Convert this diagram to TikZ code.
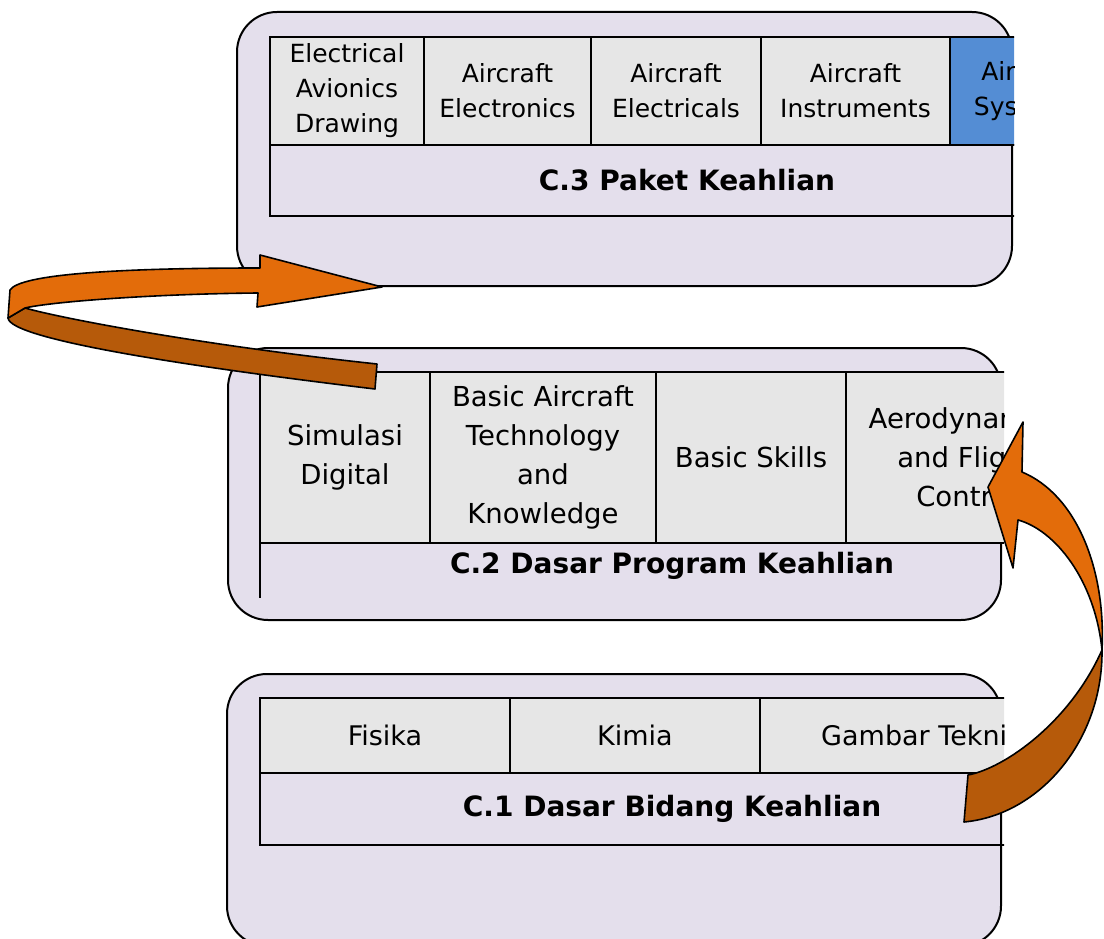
\documentclass[tikz,border=0pt]{standalone}
\usepackage{fontspec}
\setmainfont{DejaVu Sans}
\usepackage{tikz}
\usetikzlibrary{positioning}
\definecolor{panelfill}{RGB}{228,223,236}
\definecolor{cellgray}{RGB}{230,230,230}
\definecolor{cellblue}{RGB}{84,141,212}
\definecolor{arroworange}{RGB}{227,108,10}
\definecolor{arrowdark}{RGB}{182,90,10}
\tikzset{>=stealth}

\begin{document}
\begin{tikzpicture}[x=1pt,y=-1pt,
    panel/.style={draw,line width=2pt,fill=panelfill,rounded corners=40pt},
    cell/.style={draw,line width=2.5pt,fill=cellgray,anchor=north west,align=center,inner sep=0pt,outer sep=0pt},
    cellthree/.style={cell,minimum height=108pt,font=\fontsize{25}{35}\selectfont},
    celltwo/.style={cell,minimum height=171pt,font=\fontsize{27.5}{39}\selectfont},
    cellone/.style={cell,minimum height=75pt,font=\fontsize{27}{33}\selectfont},
    footrow/.style={draw,line width=2.5pt,anchor=north west,inner sep=0pt,outer sep=0pt,font=\fontsize{28}{34}\selectfont\bfseries},
    foottext/.style={font=\fontsize{28}{34}\selectfont\bfseries},
    ribbon/.style={draw,line width=1.6pt,line join=round}]
  \useasboundingbox (0,0) rectangle (1104,939);
  \clip (0,0) rectangle (1104,939);

  % C.3 Paket Keahlian
  \draw[panel] (237,12) rectangle (1012,286);
  \begin{scope}
    \clip (0,0) rectangle (1014,300);
    \node[cellthree,minimum width=154pt] (ead) at (270,37) {Electrical\\Avionics\\Drawing};
    \node[cellthree,minimum width=167pt,right=0pt of ead] (ael) {Aircraft\\Electronics};
    \node[cellthree,minimum width=170pt,right=0pt of ael] (aec) {Aircraft\\Electricals};
    \node[cellthree,minimum width=189pt,right=0pt of aec] (ain) {Aircraft\\Instruments};
    \node[cellthree,minimum width=154pt,fill=cellblue,right=0pt of ain] (asy) {Aircraft\\Systems};
    \node[footrow,minimum width=834pt,minimum height=71pt] (p3foot) at (ead.south west) {C.3 Paket Keahlian};
  \end{scope}

  % C.2 Dasar Program Keahlian
  \draw[panel] (228,348) rectangle (1001,620);
  \begin{scope}
    \clip (0,300) rectangle (1004,650);
    \node[celltwo,minimum width=170pt] (sim) at (260,372) {Simulasi\\Digital};
    \node[celltwo,minimum width=226pt,right=0pt of sim] (bat) {Basic Aircraft\\Technology\\and\\Knowledge};
    \node[celltwo,minimum width=190pt,right=0pt of bat] (bsk) {Basic Skills};
    \node[celltwo,minimum width=240pt,right=0pt of bsk] (afc) {Aerodynamics\\and Flight\\Control};
    \draw[line width=2.5pt] (sim.south west) -- ++(0,55);
    \node[foottext] (p2foot) at (672,566) {C.2 Dasar Program Keahlian};
  \end{scope}

  % C.1 Dasar Bidang Keahlian
  \draw[panel] (227,674) rectangle (1001,946);
  \begin{scope}
    \clip (0,650) rectangle (1004,939);
    \node[cellone,minimum width=250pt] (fis) at (260,698) {Fisika};
    \node[cellone,minimum width=250pt,right=0pt of fis] (kim) {Kimia};
    \node[cellone,minimum width=324pt,right=0pt of kim] (gbt) {Gambar Teknik};
    \node[footrow,minimum width=824pt,minimum height=72pt] (p1foot) at (fis.south west) {C.1 Dasar Bidang Keahlian};
  \end{scope}

  % loop arrow C.2 -> C.3
  \path[ribbon,fill=arrowdark] (8,318) -- (25,308) .. controls (60,318) and (200,345) .. (377,364)
    -- (375,389) .. controls (200,368) and (10,340) .. (8,318) -- cycle;
  \path[ribbon,fill=arroworange] (10,290) .. controls (20,274) and (120,268) .. (260,268)
    -- (260,255) -- (382,287) -- (257,307) -- (258,293)
    .. controls (150,294) and (50,302) .. (25,308) -- (8,318) -- cycle;

  % curved arrow C.1 -> C.2
  \path[ribbon,fill=arrowdark] (1102,650) .. controls (1103,740) and (1040,815) .. (964,822)
    -- (968,775) .. controls (1005,768) and (1070,722) .. (1102,650) -- cycle;
  \path[ribbon,fill=arroworange] (1102,650) .. controls (1106,570) and (1077,495) .. (1022,472)
    -- (1023,422) -- (988,487) -- (1013,568) -- (1018,520)
    .. controls (1055,530) and (1095,580) .. (1102,650) -- cycle;
\end{tikzpicture}
\end{document}
